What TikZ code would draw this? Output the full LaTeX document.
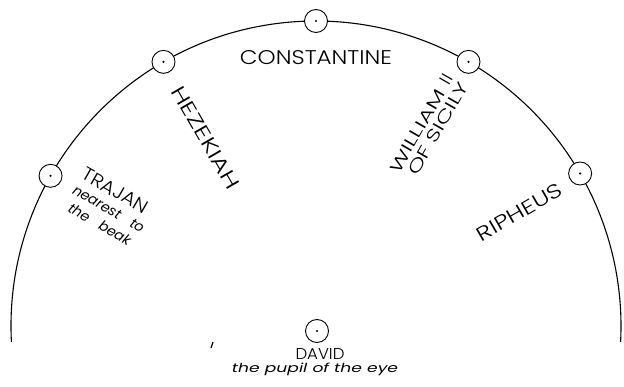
\documentclass[tikz,border=0pt]{standalone}
\usepackage{fontspec}
\usepackage{graphicx}
\usetikzlibrary{calc}
\IfFontExistsTF{Poppins Light}{\newfontfamily\capsfont{Poppins Light}}{\newfontfamily\capsfont{Poppins}}
\IfFontExistsTF{Poppins Italic}{\newfontfamily\itfont{Poppins Italic}}{\newfontfamily\itfont{Liberation Sans Italic}}
\IfFontExistsTF{DejaVu Sans ExtraLight}{\newfontfamily\djvfont{DejaVu Sans ExtraLight}}{\newfontfamily\djvfont{DejaVu Sans}}
\newcommand{\caplbl}[3]{\resizebox{#1}{#2}{\capsfont\fontsize{20}{24}\selectfont #3}}
\newcommand{\itlbl}[3]{\resizebox{#1}{#2}{\itfont\fontsize{14}{16}\selectfont #3}}
\begin{document}
\begin{tikzpicture}[x=1pt,y=1pt,
  pt/.style={circle, draw, fill=white, line width=0.9pt, minimum size=23pt, inner sep=0pt},
  lab/.style={inner sep=0pt, anchor=center},
  blab/.style={inner sep=0pt, anchor=base},
  arcline/.style={line width=1.1pt}]
\useasboundingbox (0,0) rectangle (624,386);
\coordinate (C) at (316,60);
% the great arc
\draw[arcline] (C) ++(183:305) arc[start angle=183,end angle=-3,radius=305];
% points on the arc
\node[pt] (trajanpt) at ($(C)+(150.5:305)$) {};
\node[pt] (hezpt) at ($(C)+(120:305)$) {};
\node[pt] (constpt) at ($(C)+(90:305)$) {};
\node[pt] (willpt) at ($(C)+(60:305)$) {};
\node[pt] (riphpt) at ($(C)+(30:305)$) {};
\node[pt] (davidpt) at (317,55) {};
\foreach \n in {trajanpt,hezpt,constpt,willpt,riphpt,davidpt}{\fill (\n.center) circle (1.2);}
% CONSTANTINE
\node[lab] (const) at (316,328) {\caplbl{152pt}{14pt}{CONSTANTINE}};
% HEZEKIAH
\begin{scope}[shift={($(C)+(120:218)$)}, rotate=-60, transform shape]
  \node[lab] (hez) at (0,-1.5) {\caplbl{116pt}{14pt}{HEZEKIAH}};
\end{scope}
% TRAJAN
\begin{scope}[shift={($(C)+(150.5:240)$)}, rotate=-30, transform shape]
  \node[lab] (trajan) at (-1.5,19) {\caplbl{73pt}{13pt}{TRAJAN}};
  \node[blab] (nearest) at (2,-5) {\itfont\fontsize{14}{16}\selectfont\makebox[80pt][s]{nearest\hfill to}};
  \node[blab] (beak) at (2,-23) {\itfont\fontsize{14}{16}\selectfont\makebox[70pt][s]{the\hfill beak}};
\end{scope}
% WILLIAM II OF SICILY
\begin{scope}[shift={($(C)+(60:231)$)}, rotate=60, transform shape]
  \node[lab] (william) at (-2,10) {\resizebox{112pt}{12pt}{\capsfont\fontsize{20}{24}\selectfont WILLIAM {\djvfont Ⅱ}}};
  \node[lab] (sicily) at (1,-7) {\caplbl{104pt}{12pt}{OF SICILY}};
\end{scope}
% RIPHEUS
\begin{scope}[shift={($(C)+(30:233)$)}, rotate=30, transform shape]
  \node[lab] (ripheus) at (0,-3) {\caplbl{96pt}{14pt}{RIPHEUS}};
\end{scope}
% DAVID
\node[lab] (david) at (320,32) {\caplbl{49pt}{11pt}{DAVID}};
\node[blab] (pupil) at (315,14) {\itlbl{166pt}{9.5pt}{the pupil of the eye}};
% stray mark
\draw[line width=1.2pt] (211,38) -- (213,44);
\end{tikzpicture}
\end{document}
